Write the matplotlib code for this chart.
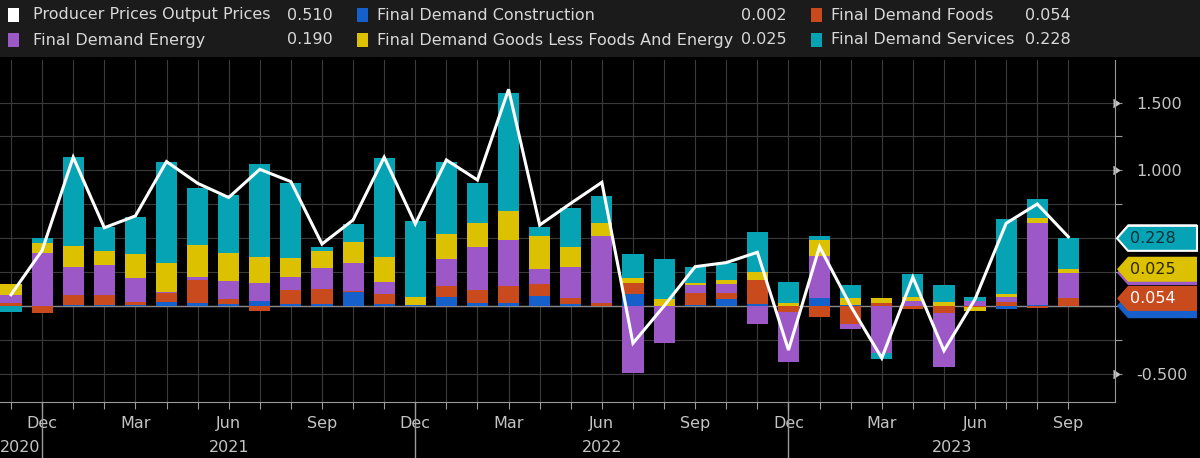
import numpy as np
import pandas as pd
import matplotlib
matplotlib.use('Agg')
import matplotlib.pyplot as plt
from matplotlib.patches import Polygon, Rectangle
from matplotlib.lines import Line2D

plt.rcParams['font.family'] = ['Liberation Sans Narrow', 'DejaVu Sans']

# monthly contributions, Nov 2020 .. Sep 2023
months = pd.period_range('2020-11', '2023-09', freq='M')

ppi = [0.083, 0.41, 1.097, 0.577, 0.664, 1.065, 0.905, 0.80, 1.008, 0.917, 0.457, 0.634,
       1.097, 0.605, 1.077, 0.929, 1.598, 0.597, 0.757, 0.912, -0.275, 0.0, 0.29, 0.32,
       0.396, -0.325, 0.437, 0.0, -0.384, 0.212, -0.33, 0.05, 0.61, 0.752, 0.510]
construction = [0.0, 0.0, 0.01, 0.008, 0.005, 0.03, 0.02, 0.015, 0.039, 0.015, 0.012, 0.10,
                0.015, 0.005, 0.069, 0.025, 0.025, 0.074, 0.012, 0.0, 0.088, 0.0, 0.007, 0.052,
                0.015, 0.0, 0.061, 0.01, 0.0, 0.0, 0.0, 0.0, -0.025, 0.007, 0.002]
foods = [0.02, -0.054, 0.07, 0.073, 0.025, 0.065, 0.172, 0.037, -0.037, 0.103, 0.116, 0.008,
         0.076, 0.0, 0.078, 0.093, 0.122, 0.088, 0.049, 0.02, 0.079, 0.0, 0.091, 0.042,
         0.177, -0.042, -0.079, -0.133, 0.02, -0.025, -0.054, -0.005, 0.032, -0.017, 0.054]
energy = [0.064, 0.388, 0.21, 0.22, 0.174, 0.01, 0.024, 0.135, 0.128, 0.098, 0.15, 0.211,
          0.084, 0.0, 0.203, 0.319, 0.34, 0.108, 0.229, 0.496, -0.496, -0.27, 0.054, 0.068,
          -0.133, -0.373, 0.31, -0.039, -0.349, 0.039, -0.398, 0.037, 0.037, 0.607, 0.190]
goods = [0.079, 0.079, 0.155, 0.108, 0.177, 0.21, 0.231, 0.202, 0.197, 0.14, 0.13, 0.155,
         0.189, 0.062, 0.179, 0.177, 0.216, 0.246, 0.147, 0.098, 0.042, 0.05, 0.015, 0.03,
         0.061, 0.025, 0.116, 0.05, 0.037, 0.03, 0.032, -0.03, 0.019, 0.033, 0.025]
services = [-0.047, 0.032, 0.655, 0.17, 0.273, 0.75, 0.421, 0.429, 0.681, 0.554, 0.03, 0.131,
            0.73, 0.558, 0.533, 0.296, 0.87, 0.069, 0.288, 0.197, 0.172, 0.298, 0.118, 0.123,
            0.295, 0.155, 0.032, 0.098, -0.044, 0.165, 0.123, 0.032, 0.551, 0.139, 0.228]

WHITE = '#ffffff'
BLUE = '#1660cc'
ORANGE = '#c94a1c'
PURPLE = '#9b58c6'
YELLOW = '#dcc100'
TEAL = '#06a3b5'

series = [('Final Demand Construction', construction, BLUE),
          ('Final Demand Foods', foods, ORANGE),
          ('Final Demand Energy', energy, PURPLE),
          ('Final Demand Goods Less Foods And Energy', goods, YELLOW),
          ('Final Demand Services', services, TEAL)]

W, H = 1200, 458
fig = plt.figure(figsize=(12, 4.58), dpi=100, facecolor='black')
fig.patches.append(Rectangle((0, 1 - 57 / H), 1, 57 / H, transform=fig.transFigure,
                             facecolor='#1b1b1b', edgecolor='none', zorder=0))

ax = fig.add_axes([0, 1 - 402 / H, 1115 / W, 342 / H])
ax.set_facecolor('black')

x = np.arange(len(months))
pos_base = np.zeros(len(x))
neg_base = np.zeros(len(x))
tops = {}
for name, vals, color in series:
    v = np.array(vals)
    base = np.where(v >= 0, pos_base, neg_base)
    ax.bar(x, v, width=0.68, bottom=base, color=color, linewidth=0, zorder=2)
    pos_base += np.where(v >= 0, v, 0)
    neg_base += np.where(v < 0, v, 0)
    tops[name] = base[-1] + v[-1]

ax.plot(x, ppi, color=WHITE, lw=2.2, zorder=3, solid_joinstyle='miter')
ax.axhline(0, color='#8a8a8a', lw=1, zorder=1.5)

ax.set_xlim(-0.354, 35.5)
ax.set_ylim(-0.708, 1.814)

# grid
yt = np.arange(-0.5, 1.51, 0.25)
ax.set_yticks(yt)
ax.set_yticklabels(['%.3f' % t if t in (1.5, 1.0, -0.5) else '' for t in yt])
ax.set_xticks(x)
ax.set_xticklabels([m.strftime('%b') if m.month in (12, 3, 6, 9) else '' for m in months])
ax.grid(True, color='#3a3a3a', lw=0.8)
ax.set_axisbelow(True)

ax.yaxis.tick_right()
ax.tick_params(axis='y', length=5, color='#9a9a9a', labelcolor='#c4c4c4', labelsize=11.5, pad=10)
ax.tick_params(axis='x', length=5, color='#9a9a9a', labelcolor='#c4c4c4', labelsize=11.5, pad=5)
for s in ('top', 'left'):
    ax.spines[s].set_visible(False)
for s in ('bottom', 'right'):
    ax.spines[s].set_color('#9a9a9a')

yax = ax.get_yaxis_transform()
ax.plot([1119 / 1115] * 3, [1.5, 1.0, -0.5], marker=5, ms=6, ls='none', color='#c4c4c4',
        transform=yax, clip_on=False)

# year labels and separators
xax = ax.get_xaxis_transform()
seps = [i for i, m in enumerate(months) if m.month == 12]
for s in seps:
    ax.add_line(Line2D([s, s], [0, -0.2], transform=xax, color='#9a9a9a', lw=1, clip_on=False))
ax.text(-0.354, -0.132, '2020', transform=xax, ha='left', va='center', color='#c4c4c4', fontsize=11.5)
bounds = seps + [35.5]
for i, yr in enumerate(['2021', '2022', '2023']):
    ax.text((bounds[i] + bounds[i + 1]) / 2, -0.132, yr, transform=xax, ha='center', va='center',
            color='#c4c4c4', fontsize=11.5)

# value tags on the right, each one drawn over the previous one
hh = 12.5 / 135.6
z = [5.0]
def tag(y, fill, txt, tcolor, edge='none'):
    x0, x1, x2 = 1117 / 1115, 1128 / 1115, 1197 / 1115
    poly = Polygon([(x0, y), (x1, y + hh), (x2, y + hh), (x2, y - hh), (x1, y - hh)],
                   closed=True, transform=yax, facecolor=fill, edgecolor=edge, lw=1.5,
                   clip_on=False, zorder=z[0])
    ax.add_patch(poly)
    ax.text(1130 / 1115, y, txt, transform=yax, ha='left', va='center', color=tcolor,
            fontsize=11.5, zorder=z[0] + 0.1, clip_on=False)
    z[0] += 0.2

last = {name: vals[-1] for name, vals, c in series}
tag(ppi[-1], WHITE, '%.3f' % ppi[-1], '#000000')
tag(tops['Final Demand Services'], TEAL, '%.3f' % last['Final Demand Services'], '#0d2f35', WHITE)
tag(tops['Final Demand Energy'], PURPLE, '%.3f' % last['Final Demand Energy'], WHITE)
tag(tops['Final Demand Goods Less Foods And Energy'], YELLOW,
    '%.3f' % last['Final Demand Goods Less Foods And Energy'], '#2a2400')
tag(tops['Final Demand Construction'], BLUE, '%.3f' % last['Final Demand Construction'], WHITE)
tag(tops['Final Demand Foods'], ORANGE, '%.3f' % last['Final Demand Foods'], WHITE)

# legend
legend = [('Producer Prices Output Prices', ppi, WHITE, 8, 33, 333, 15),
          ('Final Demand Construction', construction, BLUE, 357, 377, 787, 15),
          ('Final Demand Foods', foods, ORANGE, 811, 831, 1071, 15),
          ('Final Demand Energy', energy, PURPLE, 8, 33, 333, 40),
          ('Final Demand Goods Less Foods And Energy', goods, YELLOW, 357, 377, 787, 40),
          ('Final Demand Services', services, TEAL, 811, 831, 1071, 40)]
for name, vals, color, sx, tx, vx, ly in legend:
    fig.patches.append(Rectangle((sx / W, 1 - (ly + 7) / H), 11 / W, 14 / H,
                                 transform=fig.transFigure, facecolor=color, edgecolor='none'))
    fig.text(tx / W, 1 - ly / H, name, ha='left', va='center', color='#d8d8d8', fontsize=11.5)
    fig.text(vx / W, 1 - ly / H, '%.3f' % vals[-1], ha='right', va='center', color='#d8d8d8',
             fontsize=11.5)

fig.savefig('out.png', dpi=100, facecolor='black')
